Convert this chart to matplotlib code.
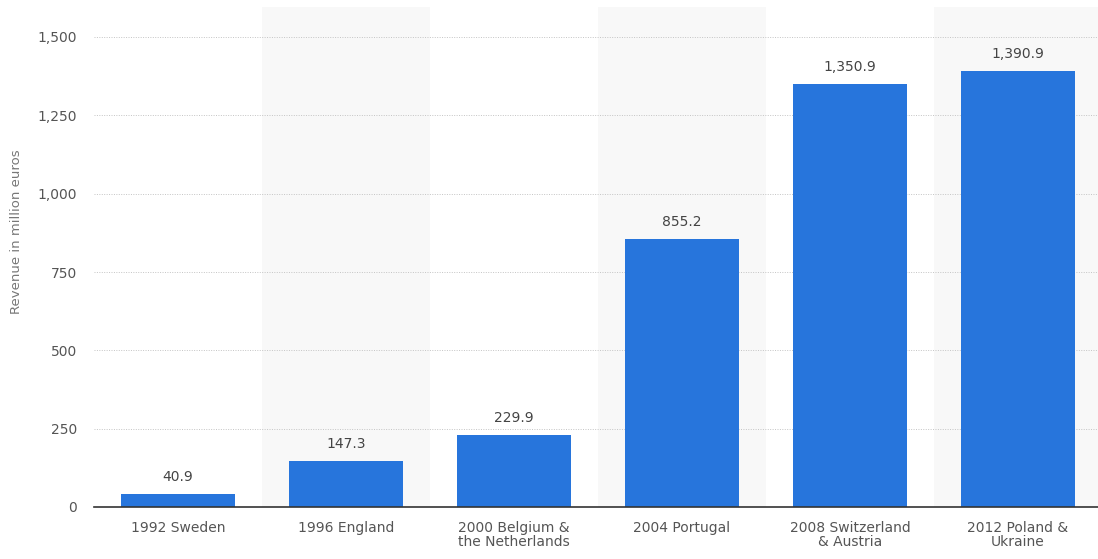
import matplotlib
matplotlib.use("Agg")
import matplotlib.pyplot as plt

categories = ["1992 Sweden", "1996 England", "2000 Belgium &\nthe Netherlands",
              "2004 Portugal", "2008 Switzerland\n& Austria", "2012 Poland &\nUkraine"]
values = [40.9, 147.3, 229.9, 855.2, 1350.9, 1390.9]
yticks = [0, 250, 500, 750, 1000, 1250, 1500]

plt.rcParams['font.family'] = ['DejaVu Sans']
fig = plt.figure(figsize=(10.98, 5.59), dpi=100)
W, H = 1098, 559
left_px, right_px, bottom_px, top_px = 94, 1098, 507, 7
ax = fig.add_axes([left_px / W, (H - bottom_px) / H, (right_px - left_px) / W, (bottom_px - top_px) / H])

cat_w = 168
xmax = -0.5 + (right_px - left_px) / cat_w
ax.set_xlim(-0.5, xmax)
ax.set_ylim(0, 1500 + 1500 * 30 / 470)

# alternating bands
for i in range(len(categories)):
    if i % 2 == 1:
        ax.axvspan(i - 0.5, i + 0.5, color="#f8f8f8", zorder=0, lw=0)

ax.set_yticks(yticks)
ax.set_yticklabels([f"{v:,}" for v in yticks])
ax.grid(axis="y", linestyle=(0, (1, 1.5)), color="#c4c4c4", linewidth=0.7, zorder=1)
ax.set_axisbelow(True)

x = list(range(len(categories)))
bars = ax.bar(x, values, width=0.68, color="#2775dc", zorder=2)
for xi, v in zip(x, values):
    ax.annotate(f"{v:,.1f}", (xi, v), xytext=(0, 7), textcoords="offset points",
                ha="center", va="bottom", fontsize=10, color="#444444")

ax.set_xticks(x)
ax.set_xticklabels(categories, fontsize=10, color="#555555", linespacing=1.0)
ax.tick_params(axis="x", length=0, pad=10)
ax.tick_params(axis="y", length=0, pad=12, labelsize=10, labelcolor="#555555")

for s in ["top", "right", "left"]:
    ax.spines[s].set_visible(False)
ax.spines["bottom"].set_color("#333333")
ax.spines["bottom"].set_linewidth(1.2)

fig.text(17 / W, (H - 232) / H, "Revenue in million euros", rotation=90, ha="center", va="center",
         fontsize=9.5, color="#777777")

fig.savefig("out.png", dpi=100, facecolor="white")
